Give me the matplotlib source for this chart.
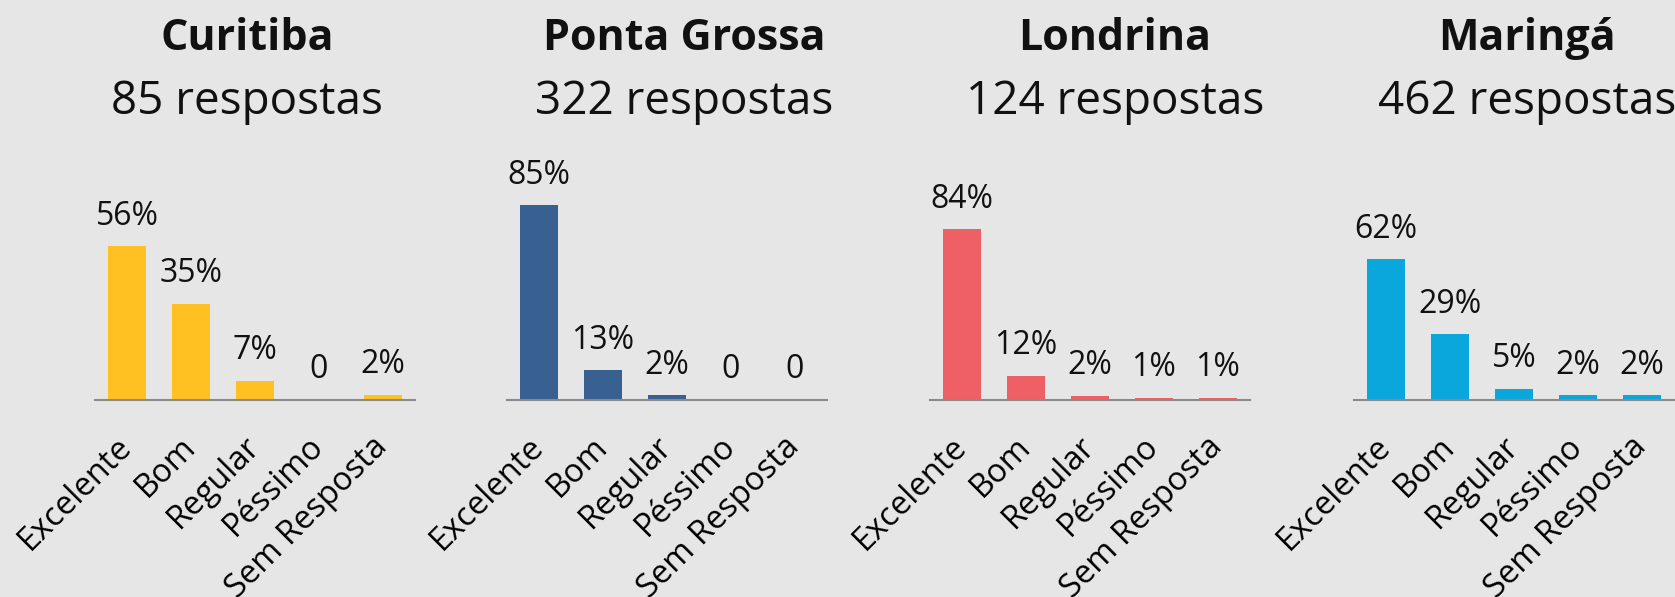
import matplotlib.pyplot as plt

plt.rcParams['font.family'] = ['Open Sans', 'DejaVu Sans']

categories = ['Excelente', 'Bom', 'Regular', 'Péssimo', 'Sem Resposta']

cities = ['Curitiba', 'Ponta Grossa', 'Londrina', 'Maringá']
responses = [85, 322, 124, 462]

curitiba = [56, 35, 7, 0, 2]
ponta_grossa = [85, 13, 2, 0, 0]
londrina = [84, 12, 2, 1, 1]
maringa = [62, 29, 5, 2, 2]

colors = ['#FFC122', '#386192', '#EF5F66', '#0AA7DD']

W, H = 1675, 597

# layout in pixels (reference image)
axes_left = [95, 507, 930, 1354]
title_x = [247, 684, 1115, 1527]
y_tops = [91, 109, 123, 110]
baseline = 400
axes_h = 250
axes_w = 320


def draw_panel(fig, i, values):
    ax = fig.add_axes([axes_left[i] / W, (H - baseline) / H,
                       axes_w / W, axes_h / H])
    ax.set_facecolor('none')
    x = range(len(categories))
    ax.bar(x, values, width=0.58, color=colors[i])
    ax.set_xlim(-0.5, len(categories) - 0.5)
    ax.set_ylim(0, y_tops[i])

    for xi, v in zip(x, values):
        label = '0' if v == 0 else f'{v}%'
        ax.annotate(label, (xi, v), xytext=(0, 15.5), textcoords='offset points',
                    ha='center', va='baseline', fontsize=23, color='#111111')

    ax.set_xticks(list(x))
    ax.set_xticklabels(categories, rotation=45, ha='right', va='center',
                       rotation_mode='anchor', fontsize=23.5)
    ax.tick_params(axis='x', length=0, pad=30)
    ax.set_yticks([])
    for side in ['left', 'right', 'top']:
        ax.spines[side].set_visible(False)
    ax.spines['bottom'].set_color('#8a8a8a')
    ax.spines['bottom'].set_linewidth(1.5)

    fig.text(title_x[i] / W, 1 - 38 / H, cities[i], ha='center', va='center',
             fontsize=31, fontweight='bold', color='#111111')
    fig.text(title_x[i] / W, 1 - 102 / H, f'{responses[i]} respostas',
             ha='center', va='center', fontsize=33, color='#111111')


fig = plt.figure(figsize=(W / 100, H / 100), dpi=100)
fig.patch.set_facecolor('#e6e6e6')

for i, vals in enumerate([curitiba, ponta_grossa, londrina, maringa]):
    draw_panel(fig, i, vals)

fig.savefig('out.png', dpi=100, facecolor=fig.get_facecolor())
